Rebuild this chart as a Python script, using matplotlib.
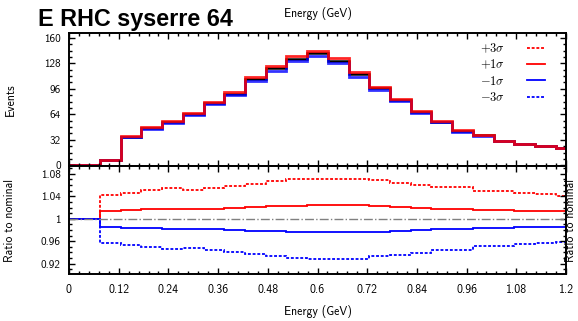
import matplotlib
matplotlib.use("Agg")
import matplotlib.pyplot as plt
from matplotlib.ticker import MultipleLocator, AutoMinorLocator, FormatStrFormatter
import numpy as np

plt.rcParams['mathtext.fontset'] = 'cm'
plt.rcParams['font.family'] = ['cmss10', 'DejaVu Sans']

# bin edges (GeV)
edges = [0.0, 0.075, 0.125, 0.175, 0.225, 0.275, 0.325, 0.375, 0.425, 0.475,
         0.525, 0.575, 0.625, 0.675, 0.725, 0.775, 0.825, 0.875, 0.925, 0.975,
         1.025, 1.075, 1.125, 1.175, 1.225]

nominal = [0, 7, 36, 47, 54.5, 64, 78.5, 90, 108, 121.5, 134, 140.5, 131.5, 114,
           96.5, 82, 66.5, 55, 43, 38, 30.5, 27, 24, 22]

ratio_p3 = [1.0, 1.043, 1.046, 1.051, 1.054, 1.051, 1.055, 1.059, 1.062, 1.067,
            1.070, 1.071, 1.071, 1.071, 1.069, 1.064, 1.061, 1.056, 1.056, 1.050,
            1.050, 1.045, 1.044, 1.041]
ratio_p1 = [1.0, 1.014, 1.015, 1.017, 1.018, 1.017, 1.018, 1.020, 1.021, 1.0225,
            1.023, 1.0237, 1.0237, 1.0237, 1.0225, 1.021, 1.020, 1.018, 1.018, 1.016,
            1.016, 1.014, 1.014, 1.014]
ratio_m1 = [1.0, 0.986, 0.984, 0.983, 0.982, 0.982, 0.982, 0.980, 0.979, 0.9776,
            0.9764, 0.9758, 0.9758, 0.9758, 0.977, 0.978, 0.980, 0.982, 0.982, 0.984,
            0.984, 0.986, 0.986, 0.986]
ratio_m3 = [1.0, 0.957, 0.954, 0.949, 0.9465, 0.948, 0.945, 0.941, 0.9375, 0.934,
            0.930, 0.9285, 0.9285, 0.9285, 0.9327, 0.936, 0.939, 0.944, 0.944, 0.951,
            0.951, 0.9555, 0.9565, 0.959]

dotted = (0, (1.6, 1.0))
variations = [
    (r'$+3\sigma$', ratio_p3, 'red', dotted),
    (r'$+1\sigma$', ratio_p1, 'red', '-'),
    (r'$-1\sigma$', ratio_m1, 'blue', '-'),
    (r'$-3\sigma$', ratio_m3, 'blue', dotted),
]

W, H = 578, 321
fig = plt.figure(figsize=(W / 100, H / 100), dpi=100)
ax_top = fig.add_axes([69 / W, 1 - 166 / H, 497 / W, 133 / H])
ax_bot = fig.add_axes([69 / W, 1 - 274 / H, 497 / W, 108 / H])

nom = np.array(nominal, dtype=float)

# top panel: nominal and the +-1 sigma spectra
ax_top.stairs(nom, edges, baseline=None, color='black', lw=1.8)
ax_top.stairs(nom * np.array(ratio_m1), edges, baseline=None, color='blue',
              lw=2.0, alpha=0.8)
ax_top.stairs(nom * np.array(ratio_p1), edges, baseline=None, color='red',
              lw=2.0, alpha=0.85)

# bottom panel: ratio to nominal
ax_bot.axhline(1.0, color='grey', ls='-.', lw=1.0)
handles = []
for label, ratio, color, ls in variations:
    h = ax_bot.stairs(ratio, edges, baseline=None, color=color, ls=ls, lw=1.3,
                      label=label)
    handles.append(h)

for ax in (ax_top, ax_bot):
    ax.set_xlim(0, 1.2)
    ax.xaxis.set_major_locator(MultipleLocator(0.12))
    ax.xaxis.set_minor_locator(AutoMinorLocator(5))
    ax.yaxis.set_minor_locator(AutoMinorLocator(4))
    ax.tick_params(which='both', direction='in', top=True, right=True,
                   labelsize=8.5, width=1.0)
    ax.tick_params(which='major', length=4.5)
    ax.tick_params(which='minor', length=2.5)
    ax.tick_params(axis='y', pad=6, labelsize=8)
    for s in ax.spines.values():
        s.set_linewidth(1.4)

ax_top.set_ylim(-0.8, 166)
ax_top.yaxis.set_major_locator(MultipleLocator(32))
ax_top.tick_params(labelbottom=False)
ax_top.set_ylabel('Events', fontsize=8.5)
ax_top.yaxis.set_label_coords(-0.1046, 0.5)

ax_bot.set_ylim(0.9015, 1.094)
ax_bot.set_yticks([0.92, 0.96, 1.0, 1.04, 1.08])
ax_bot.yaxis.set_major_formatter(FormatStrFormatter('%g'))
ax_bot.xaxis.set_major_formatter(FormatStrFormatter('%g'))
ax_bot.tick_params(axis='x', pad=7.5)
ax_bot.set_xlabel('Energy (GeV)', fontsize=8.5, labelpad=6.5)
ax_bot.set_ylabel('Ratio to nominal', fontsize=8.5)
ax_bot.yaxis.set_label_coords(-0.1066, 0.5)

ax_top.legend(handles=handles, loc='upper right', frameon=False,
              markerfirst=False, fontsize=9, handlelength=1.45,
              handletextpad=1.75, labelspacing=0.25, borderaxespad=0,
              bbox_to_anchor=(0.968, 0.974))

fig.text(38 / W, 1 - 26 / H, 'E RHC syserre 64', fontsize=16.8,
         fontweight='bold', family='Liberation Sans', va='baseline')
fig.text(317.5 / W, 1 - 13 / H, 'Energy (GeV)', fontsize=8.5,
         ha='center', va='center')
fig.text(571 / W, 1 - 221 / H, 'Ratio to nominal', fontsize=8.5,
         rotation=90, ha='center', va='center')

fig.savefig('out.png', dpi=100)
